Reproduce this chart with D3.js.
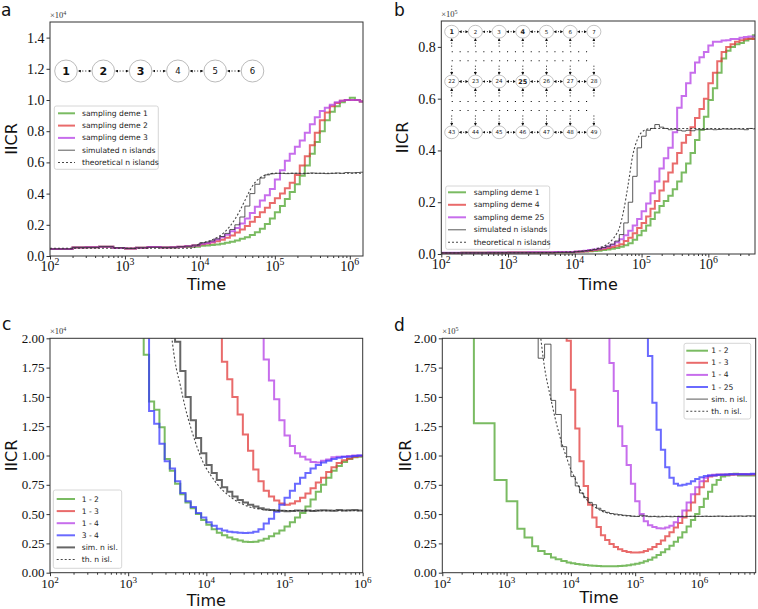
<!DOCTYPE html>
<html><head><meta charset="utf-8">
<script src="https://cdn.jsdelivr.net/npm/d3@7"></script>
<style>body{margin:0;background:#fff}svg{display:block}</style>
</head><body>
<svg id="c" width="758" height="609"></svg>
<script>
// ---------------- DATA ----------------
// Panel a (IICR x1e4)
const tA = [100,200,300,450,700,1000,1400,2000,3000,4000,5000,6300,7900,
 10000,11700,13600,15800,18500,21500,25100,29300,34100,39800,46400,54100,63100,73600,85800,
 100000,117000,136000,158000,185000,215000,251000,293000,341000,398000,464000,541000,631000,736000,858000,
 1000000,1170000,1360000];
const aDeme1 = [0.045,0.055,0.056,0.060,0.052,0.048,0.053,0.057,0.055,0.055,0.057,0.058,0.060,
 0.065,0.067,0.070,0.074,0.079,0.085,0.092,0.100,0.110,0.120,0.135,0.152,0.175,0.205,0.240,
 0.280,0.320,0.365,0.410,0.460,0.515,0.580,0.655,0.730,0.800,0.870,0.925,0.960,0.985,1.000,
 1.015,1.000,0.990];
const aDeme2 = [0.045,0.055,0.056,0.060,0.052,0.048,0.053,0.057,0.055,0.056,0.060,0.062,0.068,
 0.075,0.080,0.086,0.094,0.104,0.117,0.132,0.150,0.170,0.193,0.220,0.250,0.280,0.310,0.340,
 0.370,0.400,0.435,0.470,0.520,0.580,0.640,0.710,0.790,0.870,0.920,0.960,0.980,0.995,1.000,
 1.000,1.000,0.990];
const aDeme3 = [0.045,0.055,0.056,0.060,0.052,0.048,0.053,0.057,0.055,0.056,0.060,0.062,0.068,
 0.078,0.084,0.092,0.105,0.120,0.137,0.158,0.180,0.208,0.240,0.275,0.315,0.355,0.390,0.430,
 0.490,0.550,0.610,0.655,0.700,0.740,0.790,0.845,0.890,0.930,0.950,0.970,0.985,0.995,1.000,
 1.000,1.000,0.990];
const aSim = [0.045,0.055,0.055,0.060,0.053,0.048,0.053,0.056,0.055,0.056,0.060,0.063,0.070,
 0.085,0.090,0.097,0.110,0.125,0.145,0.170,0.200,0.250,0.320,0.400,0.460,0.500,0.520,0.527,
 0.530,0.530,0.528,0.530,0.530,0.527,0.530,0.532,0.530,0.530,0.528,0.530,0.532,0.530,0.535,
 0.533,0.535,0.537];
const aTheory = [0.050,0.050,0.050,0.050,0.050,0.050,0.050,0.050,0.050,0.050,0.050,0.050,0.050,
 0.080,0.088,0.098,0.112,0.130,0.155,0.190,0.235,0.290,0.355,0.420,0.470,0.500,0.518,0.527,
 0.530,0.530,0.530,0.530,0.530,0.530,0.530,0.530,0.530,0.530,0.530,0.530,0.530,0.530,0.530,
 0.530,0.530,0.530];
const aDemes = ["1","2","3","4","5","6"];
const aLegend = ["sampling deme 1","sampling deme 2","sampling deme 3","simulated n islands","theoretical n islands"];

// Panel b (IICR x1e5)
const tB = [100,200,500,1000,2000,5000,
 10000,11700,13600,15800,18500,21500,25100,29300,34100,39800,46400,54100,63100,73600,85800,
 100000,117000,136000,158000,185000,215000,251000,293000,341000,398000,464000,541000,631000,736000,858000,
 1000000,1170000,1360000,1580000,1850000,2150000,2510000,2930000,3410000,3980000,4640000];
const bDeme1 = [0.004,0.005,0.005,0.006,0.006,0.007,
 0.008,0.009,0.010,0.011,0.012,0.013,0.015,0.017,0.020,0.023,0.028,0.034,0.042,0.055,0.072,
 0.090,0.110,0.135,0.160,0.185,0.205,0.225,0.250,0.280,0.315,0.350,0.390,0.440,0.480,0.530,
 0.595,0.640,0.700,0.755,0.785,0.800,0.810,0.815,0.825,0.830,0.845];
const bDeme4 = [0.004,0.005,0.005,0.006,0.006,0.007,
 0.009,0.010,0.011,0.013,0.015,0.017,0.020,0.023,0.027,0.032,0.038,0.050,0.063,0.080,0.100,
 0.120,0.145,0.175,0.205,0.245,0.280,0.315,0.350,0.390,0.430,0.460,0.490,0.525,0.560,0.600,
 0.660,0.700,0.745,0.780,0.800,0.810,0.820,0.826,0.830,0.832,0.830];
const bDeme25 = [0.005,0.005,0.006,0.006,0.007,0.008,
 0.010,0.011,0.013,0.015,0.017,0.020,0.024,0.029,0.036,0.045,0.057,0.072,0.090,0.110,0.135,
 0.165,0.195,0.235,0.280,0.330,0.370,0.410,0.470,0.565,0.610,0.660,0.700,0.740,0.760,0.780,
 0.805,0.820,0.820,0.825,0.826,0.830,0.830,0.835,0.838,0.840,0.840];
const bSim = [0.005,0.005,0.005,0.005,0.005,0.006,
 0.009,0.010,0.012,0.014,0.017,0.020,0.025,0.030,0.038,0.050,0.075,0.120,0.200,0.300,0.410,
 0.455,0.478,0.485,0.500,0.490,0.485,0.480,0.482,0.478,0.475,0.478,0.476,0.480,0.480,0.481,
 0.482,0.480,0.481,0.483,0.482,0.482,0.483,0.482,0.480,0.485,0.483];
const bTheory = [0.004,0.004,0.004,0.005,0.005,0.006,
 0.009,0.010,0.012,0.014,0.017,0.021,0.027,0.035,0.048,0.068,0.100,0.170,0.270,0.380,0.440,
 0.470,0.480,0.485,0.485,0.485,0.485,0.485,0.485,0.485,0.485,0.485,0.485,0.485,0.485,0.485,
 0.485,0.485,0.485,0.485,0.485,0.485,0.485,0.485,0.485,0.485,0.485];
const bRows = [["1","2","3","4","5","6","7"],["22","23","24","25","26","27","28"],["43","44","45","46","47","48","49"]];
const bBold = ["1","4","25"];
const bLegend = ["sampling deme 1","sampling deme 4","sampling deme 25","simulated n islands","theoretical n islands"];

// Panel c (IICR x1e4)
const tC = [1000,1170,1360,1580,1850,2150,2510,2930,3410,3980,4640,5410,6310,7360,8580,
 10000,11700,13600,15800,18500,21500,25100,29300,34100,39800,46400,54100,63100,73600,85800,
 100000,117000,136000,158000,185000,215000,251000,293000,341000,398000,464000,541000,631000,736000,858000];
const c12 = [null,null,2.20,1.86,1.46,1.39,1.24,0.97,0.87,0.76,0.67,0.60,0.55,0.50,0.45,
 0.41,0.37,0.34,0.32,0.30,0.285,0.275,0.265,0.262,0.265,0.275,0.29,0.31,0.335,0.36,
 0.395,0.43,0.47,0.51,0.565,0.625,0.69,0.75,0.81,0.87,0.91,0.945,0.97,0.985,0.99];
const c13 = [null,null,null,null,null,null,null,null,null,null,null,null,null,null,null,
 null,null,2.20,1.80,1.65,1.50,1.35,1.18,1.04,0.88,0.78,0.70,0.65,0.615,0.59,
 0.58,0.59,0.61,0.64,0.675,0.72,0.77,0.81,0.86,0.90,0.935,0.96,0.975,0.99,0.995];
const c14 = [null,null,null,null,null,null,null,null,null,null,null,null,null,null,null,
 null,null,null,null,null,null,null,null,null,null,2.20,1.82,1.64,1.48,1.30,
 1.17,1.08,1.02,0.99,0.965,0.945,0.94,0.955,0.965,0.985,0.99,0.99,0.995,1.00,1.00];
const c34 = [null,null,2.20,2.05,1.38,1.27,1.10,0.95,0.89,0.78,0.68,0.61,0.56,0.51,0.47,
 0.43,0.40,0.375,0.36,0.35,0.345,0.34,0.338,0.34,0.35,0.37,0.42,0.46,0.52,0.58,
 0.64,0.70,0.76,0.81,0.85,0.89,0.92,0.94,0.955,0.97,0.98,0.99,0.99,0.995,1.00];
const cSim = [null,null,null,null,null,null,null,null,2.20,1.97,1.72,1.50,1.30,1.15,1.02,
 0.92,0.85,0.79,0.73,0.69,0.65,0.62,0.60,0.58,0.565,0.55,0.54,0.535,0.53,0.528,
 0.525,0.527,0.53,0.528,0.53,0.527,0.53,0.532,0.53,0.528,0.535,0.53,0.532,0.535,0.53];
const cTheory = [null,null,null,null,null,null,null,null,2.15,1.80,1.60,1.40,1.24,1.10,0.98,
 0.89,0.82,0.76,0.71,0.67,0.635,0.605,0.585,0.565,0.553,0.545,0.538,0.534,0.532,0.53,
 0.53,0.53,0.53,0.53,0.53,0.53,0.53,0.53,0.53,0.53,0.53,0.53,0.53,0.53,0.53];
const cLegend = ["1 - 2","1 - 3","1 - 4","3 - 4","sim. n isl.","th. n isl."];

// Panel d (IICR x1e5)
const tD = [200,310,650,1000,1470,1900,2500,3100,3900,4900,5800,7100,8600,
 10000,11700,13600,15800,18500,21500,25100,29300,34100,39800,46400,54100,63100,73600,85800,
 100000,117000,136000,158000,185000,215000,251000,293000,341000,398000,464000,541000,631000,736000,858000,
 1000000,1170000,1360000,1580000,1850000,2150000,2510000,2930000,3410000,3980000,4640000,5410000,6310000];
const d12 = [2.20,1.275,0.79,0.61,0.375,0.30,0.225,0.185,0.16,0.13,0.115,0.10,0.088,
 0.08,0.075,0.07,0.066,0.062,0.059,0.057,0.055,0.054,0.054,0.055,0.057,0.06,0.064,0.07,
 0.077,0.085,0.097,0.11,0.13,0.15,0.175,0.20,0.23,0.265,0.30,0.345,0.395,0.45,0.50,
 0.56,0.63,0.69,0.75,0.79,0.82,0.83,0.84,0.845,0.83,0.83,0.83,0.83];
const d13 = [null,null,null,null,null,null,null,null,null,null,null,2.20,1.98,
 1.56,1.23,0.95,0.74,0.58,0.47,0.39,0.32,0.28,0.245,0.22,0.20,0.185,0.177,0.172,
 0.172,0.175,0.185,0.20,0.22,0.245,0.275,0.31,0.345,0.385,0.425,0.47,0.53,0.60,0.67,
 0.73,0.78,0.82,0.83,0.835,0.835,0.835,0.835,0.838,0.84,0.84,0.838,0.838];
const d14 = [null,null,null,null,null,null,null,null,null,null,null,null,null,
 null,null,null,null,null,null,null,null,2.20,1.79,1.55,1.25,1.08,0.92,0.76,
 0.61,0.50,0.44,0.405,0.39,0.38,0.378,0.385,0.40,0.43,0.475,0.53,0.60,0.67,0.73,
 0.78,0.81,0.83,0.835,0.835,0.838,0.838,0.84,0.84,0.84,0.84,0.84,0.84];
const d125 = [null,null,null,null,null,null,null,null,null,null,null,null,null,
 null,null,null,null,null,null,null,null,null,null,null,null,null,null,null,
 null,null,2.20,1.85,1.45,1.22,1.05,0.90,0.81,0.76,0.745,0.75,0.76,0.78,0.80,
 0.815,0.825,0.83,0.83,0.835,0.835,0.838,0.84,0.84,0.84,0.84,0.84,0.845];
const dSim = [null,null,null,null,null,null,2.20,1.83,1.95,1.47,1.35,1.075,0.99,
 0.82,0.74,0.68,0.64,0.60,0.58,0.55,0.53,0.515,0.505,0.50,0.495,0.49,0.487,0.482,
 0.48,0.49,0.485,0.478,0.48,0.476,0.478,0.48,0.477,0.479,0.48,0.478,0.48,0.481,0.48,
 0.48,0.482,0.48,0.481,0.483,0.482,0.48,0.482,0.483,0.484,0.482,0.485,0.484];
const dTheory = [null,null,null,null,null,null,null,2.20,1.75,1.48,1.30,1.12,0.98,
 0.88,0.80,0.72,0.66,0.61,0.575,0.55,0.53,0.515,0.505,0.497,0.492,0.488,0.485,0.483,
 0.482,0.482,0.482,0.482,0.482,0.482,0.482,0.482,0.482,0.482,0.482,0.482,0.482,0.482,0.482,
 0.482,0.482,0.482,0.482,0.482,0.482,0.482,0.482,0.482,0.482,0.482,0.482,0.482];
const dLegend = ["1 - 2","1 - 3","1 - 4","1 - 25","sim. n isl.","th. n isl."];

const xMajor = [1e2,1e3,1e4,1e5,1e6];

// ---------------- STYLE ----------------
const SERIF = "'Liberation Serif','DejaVu Serif',serif";
const SANS = "'DejaVu Sans','Liberation Sans',sans-serif";
const GREEN = "#4ea42e", RED = "#e23a3a", PURPLE = "#b43ee6", BLUE = "#3838ff";
const stepStyle = (c) => ({color:c, w:2, op:0.75, step:true});
const simThin = {color:"#333", w:0.9, op:0.9, step:true};
const simThick = {color:"#333", w:2, op:0.75, step:true};
const theory = {color:"#333", w:1.1, op:0.9, step:false, dash:"2,2"};

const svg = d3.select("#c");
const defs = svg.append("defs");
defs.append("marker").attr("id","ah").attr("viewBox","0 0 10 10").attr("refX",5).attr("refY",5)
  .attr("markerWidth",3).attr("markerHeight",3).attr("orient","auto-start-reverse").attr("markerUnits","userSpaceOnUse")
  .append("path").attr("d","M0,0 L10,5 L0,10 z").attr("fill","#111");

function panel(cfg){
  const g = svg.append("g");
  const x = d3.scaleLog().domain(cfg.xdom).range([cfg.x0,cfg.x1]);
  const y = d3.scaleLinear().domain(cfg.ydom).range([cfg.y1,cfg.y0]);
  const cid = "clip_"+cfg.name;
  defs.append("clipPath").attr("id",cid).append("rect")
    .attr("x",cfg.x0).attr("y",cfg.y0).attr("width",cfg.x1-cfg.x0).attr("height",cfg.y1-cfg.y0);
  const plot = g.append("g").attr("clip-path",`url(#${cid})`);

  if (cfg.inset) cfg.inset(g, x, y);

  cfg.series.forEach(s=>{
    const pts = cfg.t.map((t,i)=>[t, s.v[i]]);
    pts.push([cfg.xdom[1], s.v[s.v.length-1]]);
    const line = d3.line().defined(d=>d[1]!=null)
      .x(d=>x(d[0])).y(d=>y(d[1]))
      .curve(s.step ? d3.curveStepAfter : d3.curveMonotoneX);
    plot.append("path").attr("d", line(pts)).attr("fill","none")
      .attr("stroke", s.color).attr("stroke-width", s.w).attr("stroke-opacity", s.op)
      .attr("stroke-dasharray", s.dash || null).attr("stroke-linejoin","miter");
  });

  // frame
  g.append("rect").attr("x",cfg.x0).attr("y",cfg.y0).attr("width",cfg.x1-cfg.x0).attr("height",cfg.y1-cfg.y0)
    .attr("fill","none").attr("stroke","#333").attr("stroke-width",1);

  // x axis
  const minors = [];
  for (let e=Math.floor(Math.log10(cfg.xdom[0])); e<=Math.ceil(Math.log10(cfg.xdom[1])); e++)
    for (let m=2;m<=9;m++){ const v=m*Math.pow(10,e); if (v>cfg.xdom[0] && v<cfg.xdom[1]) minors.push(v); }
  const xg = g.append("g").attr("transform",`translate(0,${cfg.y1})`)
    .call(d3.axisBottom(x).tickValues(xMajor).tickSize(3.5).tickFormat(""));
  xg.select(".domain").remove();
  const xm = g.append("g").attr("transform",`translate(0,${cfg.y1})`)
    .call(d3.axisBottom(x).tickValues(minors).tickSize(2).tickFormat(""));
  xm.select(".domain").remove();
  g.selectAll(".tick line").attr("stroke","#333");
  xMajor.forEach(v=>{
    const t = g.append("text").attr("x",x(v)).attr("y",cfg.y1+cfg.xlabDy).attr("text-anchor","middle")
      .attr("font-family",SERIF).attr("font-size",cfg.fs).attr("fill","#111").text("10");
    t.append("tspan").attr("dy",-cfg.fs*0.4).attr("font-size",cfg.fs*0.7).text(Math.round(Math.log10(v)));
  });

  // y axis
  const yg = g.append("g").attr("transform",`translate(${cfg.x0},0)`)
    .call(d3.axisLeft(y).tickValues(cfg.yticks).tickSize(3.5).tickPadding(2).tickFormat(d3.format(cfg.yfmt)));
  yg.select(".domain").remove();
  yg.selectAll(".tick line").attr("stroke","#333");
  yg.selectAll("text").attr("font-family",SERIF).attr("font-size",cfg.fs).attr("fill","#111");

  // multiplier
  const mt = g.append("text").attr("x",cfg.x0).attr("y",cfg.y0-4).attr("font-family",SERIF).attr("font-size",8.5).attr("fill","#333").text("\u00d710");
  mt.append("tspan").attr("dy",-3).attr("font-size",6).text(cfg.exp);

  // labels
  g.append("text").attr("x",(cfg.x0+cfg.x1)/2).attr("y",cfg.timeY).attr("text-anchor","middle")
    .attr("font-family",SANS).attr("font-size",16).attr("fill","#111").text("Time");
  g.append("text").attr("transform",`translate(${cfg.iicrX},${(cfg.y0+cfg.y1)/2}) rotate(-90)`).attr("text-anchor","middle")
    .attr("font-family",SANS).attr("font-size",16).attr("fill","#111").text("IICR");
  g.append("text").attr("x",cfg.letter[0]).attr("y",cfg.letter[1])
    .attr("font-family",SANS).attr("font-size",17).attr("fill","#111").text(cfg.name);

  // legend
  const L = cfg.legend;
  const lg = g.append("g");
  lg.append("rect").attr("x",L.x).attr("y",L.y).attr("width",L.w).attr("height",L.h).attr("rx",2)
    .attr("fill","#fff").attr("fill-opacity",0.9).attr("stroke","#ccc").attr("stroke-width",0.8);
  L.labels.forEach((lab,i)=>{
    const s = cfg.series[i];
    const yy = L.y0 + i*L.dy;
    lg.append("line").attr("x1",L.lx0).attr("x2",L.lx1).attr("y1",yy).attr("y2",yy)
      .attr("stroke",s.color).attr("stroke-width",s.w).attr("stroke-opacity",s.op).attr("stroke-dasharray",s.dash||null);
    lg.append("text").attr("x",L.tx).attr("y",yy).attr("dy","0.33em").attr("font-family",SANS)
      .attr("font-size",L.fs).attr("fill","#222").text(lab);
  });
}

// ------------- Insets -------------
function arrowH(g, x1, x2, yy){
  g.append("line").attr("x1",x1).attr("x2",x2).attr("y1",yy).attr("y2",yy)
    .attr("stroke","#111").attr("stroke-width",1).attr("stroke-dasharray","1,2")
    .attr("marker-start","url(#ah)").attr("marker-end","url(#ah)");
}
function arrowV(g, xx, y1, y2, startHead, endHead){
  g.append("line").attr("x1",xx).attr("x2",xx).attr("y1",y1).attr("y2",y2)
    .attr("stroke","#111").attr("stroke-width",1).attr("stroke-dasharray","1,2")
    .attr("marker-start",startHead?"url(#ah)":null).attr("marker-end",endHead?"url(#ah)":null);
}

function insetA(g){
  const cx0=66, dx=37.3, cy=71, rx=11.3, ry=11;
  aDemes.forEach((lab,i)=>{
    const cx = cx0 + i*dx;
    if (i>0) arrowH(g, cx-dx+rx+2, cx-rx-2, cy);
    g.append("ellipse").attr("cx",cx).attr("cy",cy).attr("rx",rx).attr("ry",ry)
      .attr("fill","#fff").attr("stroke","#aaa").attr("stroke-width",0.8);
    const bold = i<3;
    g.append("text").attr("x",cx).attr("y",cy).attr("dy","0.36em").attr("text-anchor","middle")
      .attr("font-family",SANS).attr("font-size",bold?11:8.5).attr("font-weight",bold?"bold":"normal")
      .attr("fill","#111").text(lab);
  });
}

function insetB(g){
  const cx0=451.7, dx=23.7, rowsY=[31.7,81.5,132.3], rx=7, ry=6.4;
  for (let r=0;r<2;r++){
    const yTop = rowsY[r], yBot = rowsY[r+1];
    const dotY1 = yTop + 20, dotY2 = yTop + 29;
    for (let c=0;c<7;c++){
      const cx = cx0 + c*dx;
      arrowV(g, cx, yTop+ry+1.5, dotY1-5, true, false);
      arrowV(g, cx, dotY2+5, yBot-ry-1.5, false, true);
    }
    [dotY1, dotY2].forEach(dy=>{
      g.append("line").attr("x1",cx0).attr("x2",cx0+6*dx).attr("y1",dy).attr("y2",dy)
        .attr("stroke","#111").attr("stroke-width",1.1).attr("stroke-dasharray","1.1,6.8");
    });
  }
  bRows.forEach((row,r)=>{
    row.forEach((lab,c)=>{
      const cx = cx0 + c*dx, cy = rowsY[r];
      if (c>0) arrowH(g, cx-dx+rx+1.5, cx-rx-1.5, cy);
      g.append("ellipse").attr("cx",cx).attr("cy",cy).attr("rx",rx).attr("ry",ry)
        .attr("fill","#fff").attr("stroke","#aaa").attr("stroke-width",0.7);
      const bold = bBold.includes(lab);
      g.append("text").attr("x",cx).attr("y",cy).attr("dy","0.36em").attr("text-anchor","middle")
        .attr("font-family",SANS).attr("font-size",bold?6.5:5.5).attr("font-weight",bold?"bold":"normal")
        .attr("fill","#222").text(lab);
    });
  });
}

// ------------- Panels -------------
panel({name:"a", t:tA, x0:50, x1:363, y0:22, y1:256, xdom:[1e2,1.5e6], ydom:[0,1.5],
  yticks:[0,0.2,0.4,0.6,0.8,1.0,1.2,1.4], yfmt:".1f", exp:"4", fs:14, xlabDy:15,
  timeY:290, iicrX:17, letter:[1,16], inset:insetA,
  series:[{...stepStyle(GREEN), v:aDeme1},{...stepStyle(RED), v:aDeme2},{...stepStyle(PURPLE), v:aDeme3},
          {...simThin, v:aSim},{...theory, v:aTheory}],
  legend:{x:54.3,y:106,w:104,h:63.3,y0:113.3,dy:12.3,lx0:58,lx1:75,tx:82,fs:7.6,labels:aLegend}});

panel({name:"b", t:tB, x0:441.3, x1:755, y0:21, y1:254, xdom:[1e2,5e6], ydom:[0,0.9],
  yticks:[0,0.2,0.4,0.6,0.8], yfmt:".1f", exp:"5", fs:14, xlabDy:15,
  timeY:290, iicrX:408, letter:[394,16], inset:insetB,
  series:[{...stepStyle(GREEN), v:bDeme1},{...stepStyle(RED), v:bDeme4},{...stepStyle(PURPLE), v:bDeme25},
          {...simThin, v:bSim},{...theory, v:bTheory}],
  legend:{x:445.7,y:186,w:104,h:63.3,y0:192.3,dy:12.5,lx0:448,lx1:466,tx:473.7,fs:7.6,labels:bLegend}});

panel({name:"c", t:tC, x0:50, x1:362.7, y0:338.3, y1:572.7, xdom:[1e2,1e6], ydom:[0,2],
  yticks:[0,0.25,0.5,0.75,1.0,1.25,1.5,1.75,2.0], yfmt:".2f", exp:"4", fs:13, xlabDy:15,
  timeY:606, iicrX:16.5, letter:[2,330], inset:null,
  series:[{...stepStyle(GREEN), v:c12},{...stepStyle(RED), v:c13},{...stepStyle(PURPLE), v:c14},
          {...stepStyle(BLUE), v:c34},{...simThick, v:cSim},{...theory, v:cTheory}],
  legend:{x:53.3,y:490,w:68.4,h:78.3,y0:499,dy:12.1,lx0:56.7,lx1:75,tx:81.7,fs:7.6,labels:cLegend}});

panel({name:"d", t:tD, x0:442.3, x1:755.7, y0:338.3, y1:572.7, xdom:[1e2,7.5e6], ydom:[0,2],
  yticks:[0,0.25,0.5,0.75,1.0,1.25,1.5,1.75,2.0], yfmt:".2f", exp:"5", fs:13, xlabDy:15,
  timeY:603, iicrX:411, letter:[394,331], inset:null,
  series:[{...stepStyle(GREEN), v:d12},{...stepStyle(RED), v:d13},{...stepStyle(PURPLE), v:d14},
          {...stepStyle(BLUE), v:d125},{...simThin, v:dSim},{...theory, v:dTheory}],
  legend:{x:684,y:343.3,w:66.7,h:75.7,y0:350.7,dy:12.1,lx0:686.3,lx1:708,tx:711.3,fs:7.6,labels:dLegend}});
</script>
</body></html>
